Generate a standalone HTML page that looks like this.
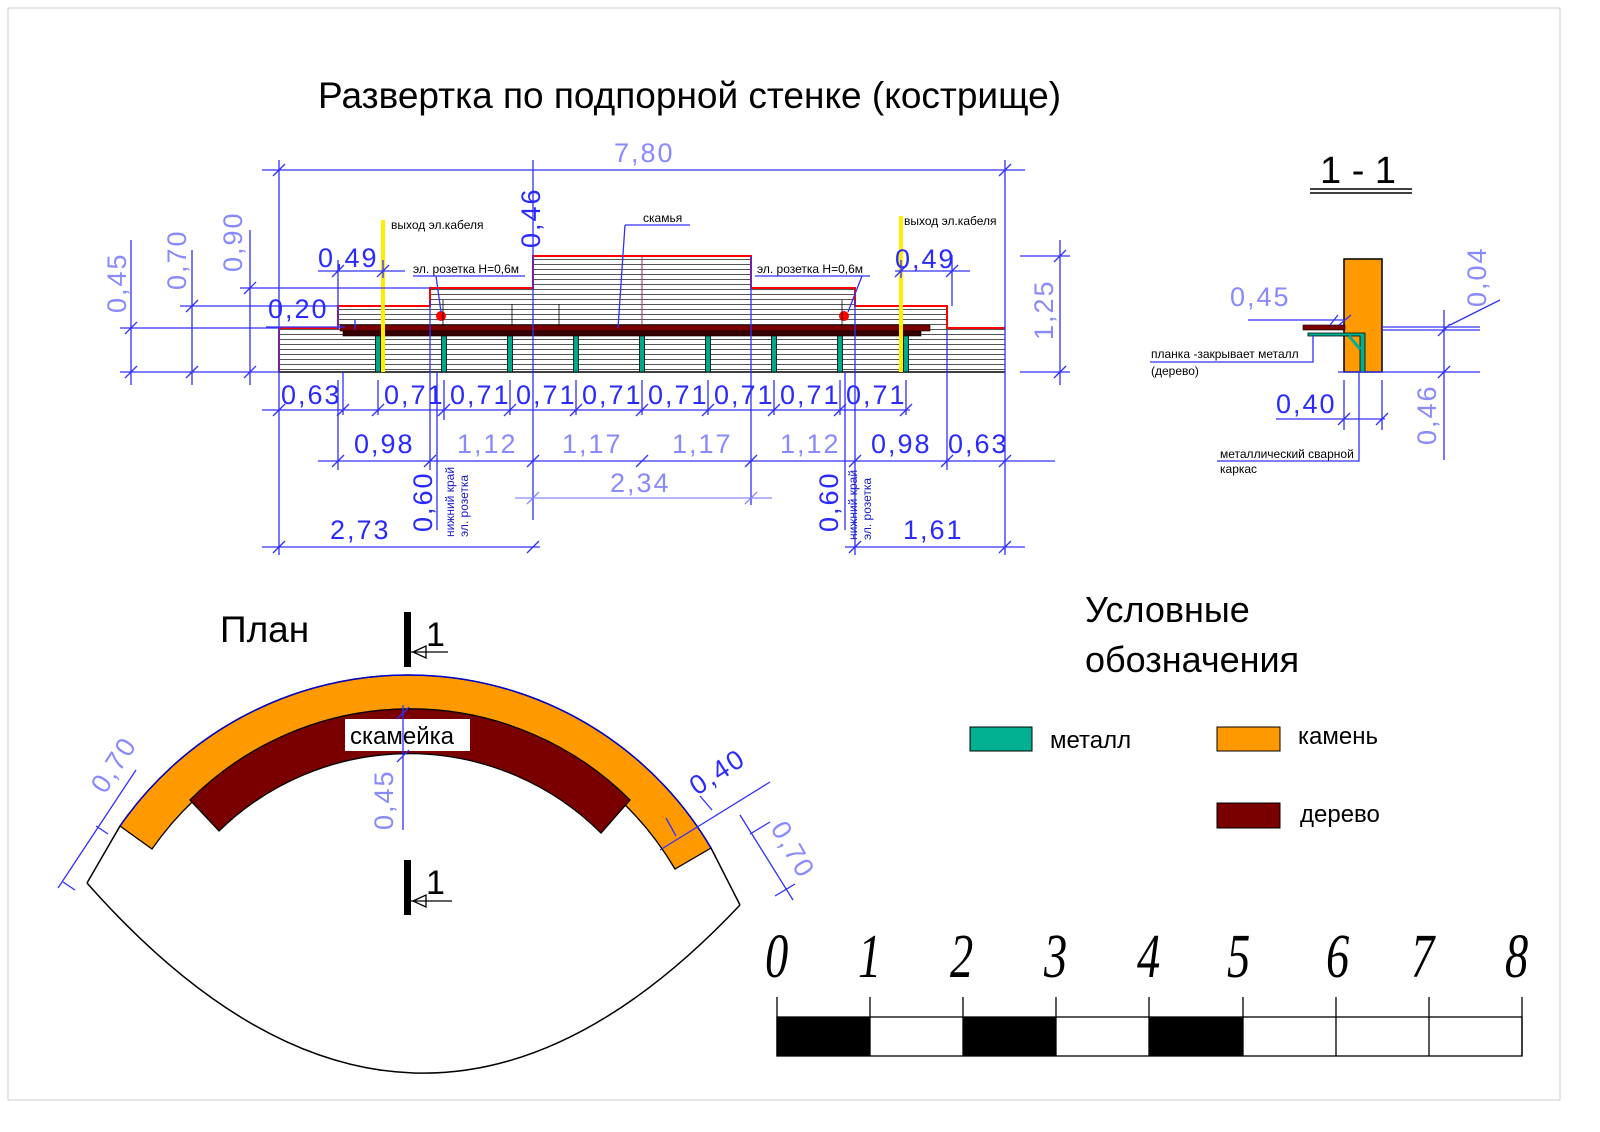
<!DOCTYPE html>
<html><head><meta charset="utf-8"><style>
html,body{margin:0;padding:0;background:#fff}
svg{display:block}
.d{fill:#2a2aff;font-family:"Liberation Sans",sans-serif;font-size:27px;letter-spacing:2px}
.l{fill:#8a8aff;font-family:"Liberation Sans",sans-serif;font-size:27px;letter-spacing:2px}
.s{fill:#000;font-family:"Liberation Sans",sans-serif;font-size:12px}
.sb{fill:#1a1acc;font-family:"Liberation Sans",sans-serif;font-size:12px}
.b{stroke:#3030ff;stroke-width:1.3;fill:none}
.lb{stroke:#8a8aff;stroke-width:1.3;fill:none}
.n{font-family:"Liberation Serif",serif;font-style:italic;font-size:62px;fill:#000}
</style></head><body>
<svg width="1600" height="1132" viewBox="0 0 1600 1132" xmlns="http://www.w3.org/2000/svg">
<defs>
<pattern id="h" width="10" height="5" patternUnits="userSpaceOnUse"><rect width="10" height="5" fill="#fff"/><line x1="0" y1="4.5" x2="10" y2="4.5" stroke="#555" stroke-width="1"/></pattern>
</defs>
<rect x="8" y="8" width="1552" height="1092" fill="none" stroke="#ccc" stroke-width="1"/>
<text x="318" y="108" font-family="Liberation Sans,sans-serif" font-size="37" fill="#000">Развертка по подпорной стенке (кострище)</text>

<path d="M279 372 L279 328 L338 328 L338 306 L430 306 L430 288 L533 288 L533 256 L751 256 L751 288 L855 288 L855 306 L947 306 L947 328 L1005 328 L1005 372 Z" fill="url(#h)"/>
<path d="M279 372 L279 328 L338 328 L338 306 L430 306 L430 288 L533 288 L533 256 L751 256 L751 288 L855 288 L855 306 L947 306 L947 328 L1005 328" fill="none" stroke="#f00" stroke-width="2"/>
<line x1="279" y1="372" x2="1005" y2="372" stroke="#000" stroke-width="1.5"/>
<line x1="642" y1="256" x2="642" y2="328" stroke="#a03060" stroke-width="1"/>
<rect x="340" y="325" width="590" height="6" fill="#7a0000" stroke="#000" stroke-width="0.6"/>
<rect x="343" y="331" width="578" height="5" fill="#3a0000" stroke="#000" stroke-width="0.6"/>
<g fill="#00a88a" stroke="#000" stroke-width="0.8">
<rect x="375.5" y="336" width="5" height="36"/><rect x="441.5" y="336" width="5" height="36"/><rect x="507.5" y="336" width="5" height="36"/><rect x="573.5" y="336" width="5" height="36"/><rect x="639.5" y="336" width="5" height="36"/><rect x="705.5" y="336" width="5" height="36"/><rect x="771.5" y="336" width="5" height="36"/><rect x="837.5" y="336" width="5" height="36"/><rect x="903.5" y="336" width="5" height="36"/>
</g>
<line x1="383" y1="220" x2="383" y2="372" stroke="#ffee00" stroke-width="4"/>
<line x1="901" y1="216" x2="901" y2="372" stroke="#ffee00" stroke-width="4"/>
<circle cx="441" cy="316" r="5" fill="#f00"/><circle cx="844" cy="316" r="5" fill="#f00"/>
<g stroke="#000" stroke-width="0.8"><line x1="443" y1="300" x2="443" y2="326"/><line x1="512" y1="304" x2="512" y2="326"/><line x1="559" y1="304" x2="559" y2="326"/><line x1="842" y1="300" x2="842" y2="326"/></g>

<g class="b">
<path d="M262 170 H1025 M279 160 V372 M1005 160 V372"/>
<path d="M273 176 L285 164 M999 176 L1011 164"/>
<path d="M120 372 H279 M120 328 H279 M180 306 H338 M240 288 H430"/>
<path d="M131 240 V385 M192 250 V385 M250 230 V385"/>
<path d="M125 378 L137 366 M125 334 L137 322 M186 378 L198 366 M186 312 L198 300 M244 378 L256 366 M244 294 L256 282"/>
<path d="M318 271 H405 M338 260 V306 M383 260 V278 M332 277 L344 265 M377 277 L389 265"/>
<path d="M266 327 H345 M338 306 V330 M355 320 V330"/>
<path d="M895 271 H970 M901 260 V278 M952 255 V306 M895 277 L907 265 M946 277 L958 265"/>
<path d="M1020 372 H1070 M1020 256 H1070 M1060 240 V385 M1054 378 L1066 366 M1054 262 L1066 250"/>
<path d="M533 160 V520 M751 256 V505"/>
<path d="M625 225 H690 M625 225 L618 328"/>
<path d="M413 276 H525 M436 276 L441 312 M755 276 H870 M862 276 L848 312"/>
</g>
<g class="b">
<path d="M262 410 H910 M279 372 V555 M343 372 V415 M378 380 V415 M444 380 V420 M510 380 V415 M576 380 V415 M642 380 V415 M708 380 V415 M774 380 V415 M840 380 V415 M906 380 V415"/>
<path d="M273 416 L285 404 M337 416 L349 404 M372 416 L384 404 M438 416 L450 404 M504 416 L516 404 M570 416 L582 404 M636 416 L648 404 M702 416 L714 404 M768 416 L780 404 M834 416 L846 404 M900 416 L912 404"/>
<path d="M318 461 H1055 M338 380 V470 M430 300 V470 M855 300 V555 M947 330 V470 M1005 372 V555"/>
<path d="M332 467 L344 455 M424 467 L436 455 M527 467 L539 455 M636 467 L648 455 M745 467 L757 455 M849 467 L861 455 M941 467 L953 455 M999 467 L1011 455"/>
<path d="M262 547 H540 M273 553 L285 541 M527 553 L539 541"/>
<path d="M845 547 H1025 M849 553 L861 541 M999 553 L1011 541"/>
<path d="M437 372 V530 M845 372 V530"/>
</g>
<g class="lb"><path d="M515 498 H772 M527 504 L539 492 M745 504 L757 492"/></g>

<text class="l" x="614" y="162">7,80</text>
<text class="l" transform="translate(126,313) rotate(-90)">0,45</text>
<text class="l" transform="translate(186,290) rotate(-90)">0,70</text>
<text class="l" transform="translate(242,272) rotate(-90)">0,90</text>
<text class="d" transform="translate(540,248) rotate(-90)">0,46</text>
<text class="l" transform="translate(1053,340) rotate(-90)">1,25</text>
<text class="d" x="318" y="267">0,49</text>
<text class="d" x="895" y="268">0,49</text>
<text class="d" x="268" y="318">0,20</text>
<text class="d" x="281" y="404">0,63</text>
<text class="d" x="384" y="404">0,71</text><text class="d" x="450" y="404">0,71</text><text class="d" x="516" y="404">0,71</text><text class="d" x="582" y="404">0,71</text><text class="d" x="648" y="404">0,71</text><text class="d" x="714" y="404">0,71</text><text class="d" x="780" y="404">0,71</text><text class="d" x="846" y="404">0,71</text>
<text class="d" x="354" y="453">0,98</text>
<text class="l" x="457" y="453">1,12</text>
<text class="l" x="562" y="453">1,17</text>
<text class="l" x="672" y="453">1,17</text>
<text class="l" x="780" y="453">1,12</text>
<text class="d" x="871" y="453">0,98</text>
<text class="d" x="948" y="453">0,63</text>
<text class="l" x="610" y="492">2,34</text>
<text class="d" x="330" y="539">2,73</text>
<text class="d" x="903" y="539">1,61</text>
<text class="d" transform="translate(432,532) rotate(-90)">0,60</text>
<text class="d" transform="translate(838,532) rotate(-90)">0,60</text>
<text class="sb" transform="translate(454,537) rotate(-90)">нижний край</text>
<text class="sb" transform="translate(468,537) rotate(-90)">эл. розетка</text>
<text class="sb" transform="translate(857,540) rotate(-90)">нижний край</text>
<text class="sb" transform="translate(871,540) rotate(-90)">эл. розетка</text>
<text class="s" x="391" y="229">выход  эл.кабеля</text>
<text class="s" x="904" y="225">выход  эл.кабеля</text>
<text class="s" x="643" y="222">скамья</text>
<text class="s" x="413" y="273">эл. розетка Н=0,6м</text>
<text class="s" x="757" y="273">эл. розетка Н=0,6м</text>

<text x="1320" y="183" font-family="Liberation Sans,sans-serif" font-size="38" fill="#000">1 - 1</text>
<path d="M1310 189 H1412 M1310 193 H1412" stroke="#000" stroke-width="1.5"/>
<rect x="1344" y="259" width="38" height="113" fill="#ff9900" stroke="#000" stroke-width="1.5"/>
<rect x="1303" y="325" width="42" height="5" fill="#7a0000" stroke="#000" stroke-width="0.6"/>
<path d="M1308 333 H1365 V372 H1360 V336 H1308 Z" fill="#00b090" stroke="#000" stroke-width="0.8"/>
<path d="M1349 336 L1360 349" stroke="#00b090" stroke-width="3"/>
<g class="b">
<path d="M1248 320 H1345 M1330 325 L1338 315 M1339 325 L1351 315"/>
<path d="M1338 372 H1480 M1382 327 H1480 M1382 330 H1480 M1444 310 V460 M1438 336 L1450 324 M1438 378 L1450 366 M1450 325 L1500 300"/>
<path d="M1276 419 H1385 M1344 380 V430 M1382 380 V430 M1338 425 L1350 413 M1376 425 L1388 413"/>
<path d="M1150 362 H1313 V335 M1217 461 H1359 V372"/>
</g>
<text class="l" x="1230" y="306">0,45</text>
<text class="l" transform="translate(1486,307) rotate(-90)">0,04</text>
<text class="d" x="1276" y="413">0,40</text>
<text class="l" transform="translate(1436,445) rotate(-90)">0,46</text>
<text class="s" x="1151" y="358">планка -закрывает металл</text>
<text class="s" x="1151" y="375">(дерево)</text>
<text class="s" x="1220" y="458">металлический сварной</text>
<text class="s" x="1220" y="473">каркас</text>

<text x="220" y="642" font-family="Liberation Sans,sans-serif" font-size="37" fill="#000">План</text>
<path d="M87 883 L120 826 M711 848 L740 905" fill="none" stroke="#000" stroke-width="1.5"/>
<path d="M87 883 Q413 1252 740 905" fill="none" stroke="#000" stroke-width="1.5"/>
<path d="M120 826 A351 351 0 0 1 711 848 L675 869 A311 311 0 0 0 152 849 Z" fill="#ff9900" stroke="#000" stroke-width="1.3"/>
<path d="M120 826 A351 351 0 0 1 711 848" fill="none" stroke="#0000cc" stroke-width="1.5"/>
<path d="M190 800 A311 311 0 0 1 630 800 L601 833 A272 272 0 0 0 219 831 Z" fill="#7a0000" stroke="#000" stroke-width="1.3"/>
<rect x="345" y="719" width="125" height="32" fill="#fff"/>
<text x="350" y="744" font-family="Liberation Sans,sans-serif" font-size="24" fill="#000">скамейка</text>
<g class="b"><path d="M403 705 V830 M397 719 L409 707 M397 762 L409 750"/>
<path d="M58 888 L136 770 M63 882 L75 890 M96 826 L108 834"/>
<path d="M660 850 L770 782 M666 818 L676 836 M700 796 L712 810"/>
<path d="M740 815 L793 900 M750 834 L770 822 M775 896 L795 884"/></g>
<text class="l" transform="translate(105,795) rotate(-57)" font-size="22">0,70</text>
<text class="d" transform="translate(697,796) rotate(-33)" font-size="22">0,40</text>
<text class="l" transform="translate(770,828) rotate(60)" font-size="22">0,70</text>
<text class="l" transform="translate(393,830) rotate(-90)">0,45</text>
<rect x="404" y="612" width="7" height="55" fill="#000"/>
<rect x="404" y="860" width="7" height="55" fill="#000"/>
<path d="M411 652 H448 M413 652 L426 646 V658 Z M411 901 H452 M413 901 L426 895 V907 Z" stroke="#000" stroke-width="1.3" fill="#fff"/>
<text x="426" y="646" font-family="Liberation Sans,sans-serif" font-size="34" fill="#000">1</text>
<text x="426" y="894" font-family="Liberation Sans,sans-serif" font-size="34" fill="#000">1</text>

<text x="1085" y="622" font-family="Liberation Sans,sans-serif" font-size="36" fill="#000">Условные</text>
<text x="1085" y="672" font-family="Liberation Sans,sans-serif" font-size="36" fill="#000">обозначения</text>
<rect x="970" y="727" width="62" height="24" fill="#00b090" stroke="#000"/>
<text x="1050" y="748" font-family="Liberation Sans,sans-serif" font-size="24" fill="#000">металл</text>
<rect x="1217" y="727" width="63" height="24" fill="#ff9900" stroke="#000"/>
<text x="1298" y="744" font-family="Liberation Sans,sans-serif" font-size="24" fill="#000">камень</text>
<rect x="1217" y="803" width="63" height="25" fill="#7a0000" stroke="#000"/>
<text x="1300" y="822" font-family="Liberation Sans,sans-serif" font-size="24" fill="#000">дерево</text>

<g stroke="#000" stroke-width="1.3" fill="none">
<rect x="777" y="1017" width="745" height="39"/>
<path d="M777 997 V1056 M870 997 V1056 M963 997 V1056 M1056 997 V1056 M1149 997 V1056 M1243 997 V1056 M1336 997 V1056 M1429 997 V1056 M1522 997 V1056"/>
</g>
<rect x="777" y="1017" width="93" height="39" fill="#000"/>
<rect x="963" y="1017" width="93" height="39" fill="#000"/>
<rect x="1149" y="1017" width="94" height="39" fill="#000"/>
<g class="n">
<text transform="translate(765,977) scale(0.75,1)">0</text>
<text transform="translate(858,977) scale(0.75,1)">1</text>
<text transform="translate(950,977) scale(0.75,1)">2</text>
<text transform="translate(1044,977) scale(0.75,1)">3</text>
<text transform="translate(1137,977) scale(0.75,1)">4</text>
<text transform="translate(1227,977) scale(0.75,1)">5</text>
<text transform="translate(1326,977) scale(0.75,1)">6</text>
<text transform="translate(1411,977) scale(0.75,1)">7</text>
<text transform="translate(1505,977) scale(0.75,1)">8</text>
</g>
</svg>
</body></html>
